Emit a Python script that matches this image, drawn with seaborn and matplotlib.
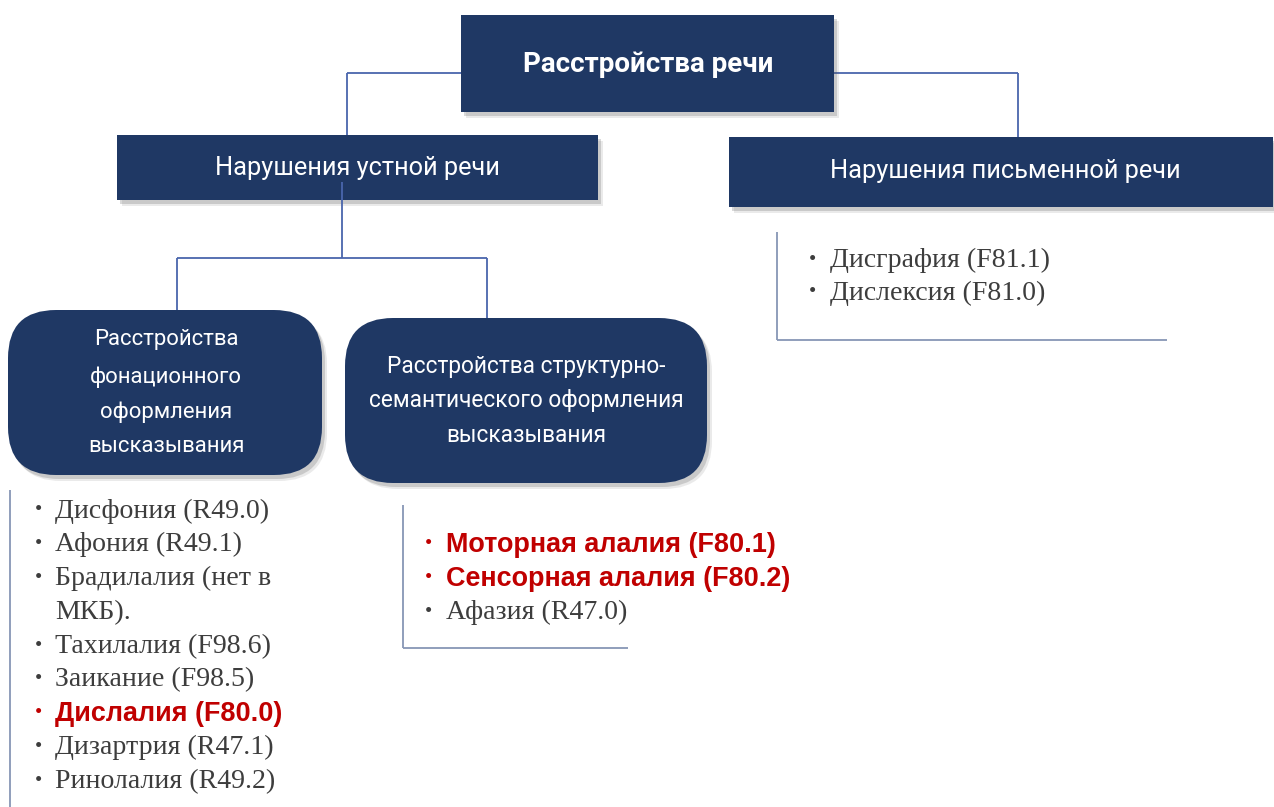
import matplotlib
matplotlib.use("Agg")
import matplotlib.pyplot as plt
from matplotlib.patches import FancyBboxPatch
from matplotlib import font_manager
import seaborn as sns

# ---------------- data ----------------
ROOT_LABEL = "Расстройства речи"
BRANCH_LABELS = ["Нарушения устной речи", "Нарушения письменной речи"]
GROUP_LABELS = [
    ["Расстройства", "фонационного", "оформления", "высказывания"],
    ["Расстройства структурно-", "семантического оформления", "высказывания"],
]
PHONATION_ITEMS = [["Дисфония (R49.0)"], ["Афония (R49.1)"], ["Брадилалия (нет в", "МКБ)."],
                   ["Тахилалия (F98.6)"], ["Заикание (F98.5)"], ["Дислалия (F80.0)"],
                   ["Дизартрия (R47.1)"], ["Ринолалия (R49.2)"]]
PHONATION_RED = [False, False, False, False, False, True, False, False]
STRUCTURAL_ITEMS = [["Моторная алалия (F80.1)"], ["Сенсорная алалия (F80.2)"], ["Афазия (R47.0)"]]
STRUCTURAL_RED = [True, True, False]
WRITTEN_ITEMS = [["Дисграфия (F81.1)"], ["Дислексия (F81.0)"]]
WRITTEN_RED = [False, False]

# ---------------- style ----------------
sns.set_theme(style="white")
NAVY = "#1f3864"
CONNECT = "#4a66ad"
BRACKET = "#8796b5"
GRAY = "#3d3d3d"
RED = "#c00000"


def pick(cands):
    for c in cands:
        try:
            font_manager.findfont(font_manager.FontProperties(family=c), fallback_to_default=False)
            return c
        except Exception:
            pass
    return "DejaVu Sans"


NARROW = pick(["Liberation Sans Narrow", "Roboto", "Liberation Sans"])
SANS = pick(["Liberation Sans", "Arial", "DejaVu Sans"])
SERIF = pick(["Liberation Serif", "Times New Roman", "DejaVu Serif"])

fig = plt.figure(figsize=(12.74, 8.07), dpi=100)
fig.patch.set_facecolor("white")
ax = fig.add_axes([0, 0, 1, 1])
ax.set_xlim(0, 1274)
ax.set_ylim(807, 0)
ax.axis("off")
renderer = fig.canvas.get_renderer()


def fit_size(s, width, **kw):
    t = ax.text(0, 0, s, fontsize=20, **kw)
    w = t.get_window_extent(renderer).width
    t.remove()
    return 20.0 * width / w


def box(x0, y0, x1, y1, rounding=0):
    style = f"round,pad=0,rounding_size={rounding}" if rounding else "square,pad=0"
    for dx, dy, a in [(5, 6, 0.12), (3, 4, 0.22)]:
        ax.add_patch(FancyBboxPatch((x0 + dx, y0 + dy), x1 - x0, y1 - y0, boxstyle=style,
                                    fc="#555555", ec="none", alpha=a, zorder=2))
    ax.add_patch(FancyBboxPatch((x0, y0), x1 - x0, y1 - y0, boxstyle=style,
                                fc=NAVY, ec="none", zorder=3))


def line(xs, ys, color=CONNECT, z=1):
    ax.plot(xs, ys, color=color, lw=1.3, zorder=z, solid_capstyle="butt")


# ---------------- connectors ----------------
line([347, 461], [73, 73])
line([347, 347], [73, 135])
line([834, 1018], [73, 73])
line([1018, 1018], [73, 137])
line([342, 342], [182, 258], z=5)
line([177, 487], [258, 258])
line([177, 177], [258, 312])
line([487, 487], [258, 320])

# ---------------- boxes ----------------
box(461, 15, 834, 112)
box(117, 135, 598, 200)
box(729, 137, 1273, 207)
box(8, 310, 322, 475, rounding=48)
box(345, 318, 707, 483, rounding=48)

# root & branch texts
fs = fit_size(ROOT_LABEL, 250, family=NARROW, fontweight="bold")
ax.text(648, 65, ROOT_LABEL, fontsize=fs, family=NARROW, fontweight="bold", color="white",
        ha="center", va="center", zorder=6)
fs = fit_size(BRANCH_LABELS[0], 285, family=NARROW)
ax.text(357, 168, BRANCH_LABELS[0], fontsize=fs, family=NARROW, color="white",
        ha="center", va="center", zorder=6)
ax.text(1005, 171, BRANCH_LABELS[1], fontsize=fs, family=NARROW, color="white",
        ha="center", va="center", zorder=6)

# group texts
fs1 = fit_size(GROUP_LABELS[0][3], 156, family=NARROW)
for lbl, yy in zip(GROUP_LABELS[0], [340, 377, 412, 446]):
    ax.text(166, yy, lbl, fontsize=fs1, family=NARROW, color="white", ha="center", va="center", zorder=6)
fs2 = fit_size(GROUP_LABELS[1][1], 314, family=NARROW)
for lbl, yy in zip(GROUP_LABELS[1], [366, 401, 436]):
    ax.text(526, yy, lbl, fontsize=fs2, family=NARROW, color="white", ha="center", va="center", zorder=6)

# ---------------- lists ----------------
SERIF_FS = fit_size("Дисфония (R49.0)", 214, family=SERIF)
RED_FS = fit_size("Моторная алалия (F80.1)", 330, family=SANS, fontweight="bold")


def draw_list(items, reds, xb, xt, y0, step):
    y = y0
    for lines_, red in zip(items, reds):
        col = RED if red else GRAY
        ax.text(xb, y, "•", fontsize=SERIF_FS * 0.75, family=SERIF, color=col, ha="center", va="center", zorder=6)
        for ln in lines_:
            if red:
                ax.text(xt, y, ln, fontsize=RED_FS, family=SANS, fontweight="bold", color=col,
                        ha="left", va="center", zorder=6)
            else:
                ax.text(xt, y, ln, fontsize=SERIF_FS, family=SERIF, color=col,
                        ha="left", va="center", zorder=6)
            y += step


# bracket lines
line([10, 10], [490, 807], color=BRACKET)
line([403, 403], [505, 648], color=BRACKET)
line([403, 628], [648, 648], color=BRACKET)
line([777, 777], [232, 340], color=BRACKET)
line([777, 1167], [340, 340], color=BRACKET)

draw_list(PHONATION_ITEMS, PHONATION_RED, 38, 55, 511, 33.8)
draw_list(STRUCTURAL_ITEMS, STRUCTURAL_RED, 428, 446, 545, 33.5)
draw_list(WRITTEN_ITEMS, WRITTEN_RED, 812, 830, 260, 33)

fig.savefig("out.png", dpi=100, facecolor="white")
